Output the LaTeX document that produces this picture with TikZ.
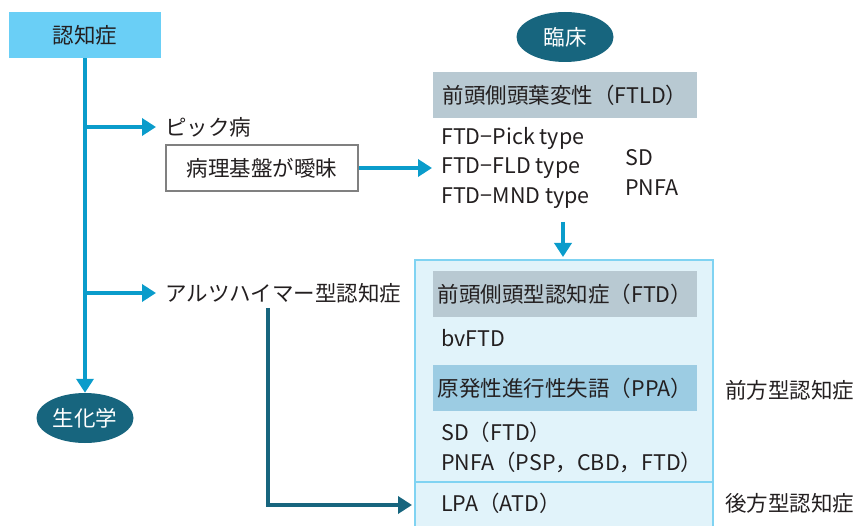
\documentclass[tikz,border=0pt]{standalone}
\usepackage{fontspec}
\setmainfont{Noto Sans CJK JP}
\usetikzlibrary{arrows.meta,shapes.geometric}
\definecolor{txt}{HTML}{231F20}
\definecolor{cyanbox}{HTML}{6ACFF6}
\definecolor{blueline}{HTML}{0A9CCB}
\definecolor{teal}{HTML}{17657E}
\definecolor{greybox}{HTML}{B8C9D2}
\definecolor{ppabox}{HTML}{9CCCE3}
\definecolor{lightfill}{HTML}{E1F3FA}
\definecolor{lightborder}{HTML}{80D3F2}
\definecolor{greyborder}{HTML}{808080}
\tikzset{
  lbl/.style={font=\fontsize{21.5}{25}\selectfont, text=txt, inner sep=0pt, anchor=west},
  oval/.style={ellipse, fill=teal, text=white, minimum width=97pt, minimum height=50pt, inner sep=0pt, font=\fontsize{21.5}{25}\selectfont},
  headbox/.style={minimum width=264pt, minimum height=46pt, inner sep=0pt, font=\fontsize{21.5}{25}\selectfont, text=txt},
  bluearrow/.style={draw=blueline, line width=3.5pt, -{Triangle[length=14pt,width=17pt]}},
  tealarrow/.style={draw=teal, line width=4pt, -{Triangle[length=14pt,width=17pt]}},
}
\begin{document}
\begin{tikzpicture}[x=1pt,y=-1pt]
\useasboundingbox (0,0) rectangle (862,526);
\begin{scope}
\clip (0,0) rectangle (862,526);
\fill[lightfill] (415,260) rectangle (713,540);
\draw[lightborder, line width=2pt] (415,540) -- (415,260) -- (713,260) -- (713,540);
\draw[lightborder, line width=2pt] (415,482) -- (713,482);
\end{scope}

% left column
\node[fill=cyanbox, minimum width=152pt, minimum height=46pt, inner sep=0pt, font=\fontsize{21.5}{25}\selectfont, text=txt] (ninchi) at (85,35) {認知症};
\node[oval] (seika) at (85,418) {生化学};
\draw[bluearrow] (ninchi.south) -- (seika.north);

\node[lbl] (pick) at (165,127) {ピック病};
\coordinate (b1) at (85,127);
\draw[bluearrow, shorten >=9pt] (b1) -- (pick.west);

\node[draw=greyborder, line width=2pt, fill=white, minimum width=192pt, minimum height=46pt, inner sep=0pt, font=\fontsize{21.5}{25}\selectfont, text=txt] (byouri) at (262,168) {病理基盤が曖昧};

\node[lbl] (alz) at (165,293) {アルツハイマー型認知症};
\coordinate (b2) at (85,293);
\draw[bluearrow, shorten >=9pt] (b2) -- (alz.west);

% clinical column
\node[oval] (rinsho) at (565,37) {臨床};
\node[headbox, fill=greybox] (ftld) at (565,95) {前頭側頭葉変性（FTLD）};
\node[lbl] (ftdpick) at (441,138) {FTD−Pick type};
\node[lbl] (ftdfld) at (441,168) {FTD−FLD type};
\node[lbl] (ftdmnd) at (441,198) {FTD−MND type};
\node[lbl] (sd1) at (625,158) {SD};
\node[lbl] (pnfa1) at (625,188) {PNFA};
\draw[bluearrow, shorten >=9pt] (byouri.east) -- (ftdfld.west);

\coordinate (dstart) at (563,222);
\coordinate (bigtop) at (563,257);
\draw[bluearrow] (dstart) -- (bigtop);

\node[headbox, fill=greybox] (ftd) at (565,294) {前頭側頭型認知症（FTD）};
\node[lbl] (bvftd) at (441,338) {bvFTD};
\node[headbox, fill=ppabox] (ppa) at (565,388) {原発性進行性失語（PPA）};
\node[lbl] (sd2) at (441,432) {SD（FTD）};
\node[lbl] (pnfa2) at (441,462) {PNFA（PSP，CBD，FTD）};
\node[lbl] (lpa) at (441,503) {LPA（ATD）};

\node[lbl] (zenpo) at (725,390) {前方型認知症};
\node[lbl] (kouho) at (725,503) {後方型認知症};

\coordinate (tstart) at (268,308);
\coordinate (tcorner) at (268,505);
\coordinate (tend) at (412,505);
\draw[tealarrow] (tstart) -- (tcorner) -- (tend);
\end{tikzpicture}
\end{document}
